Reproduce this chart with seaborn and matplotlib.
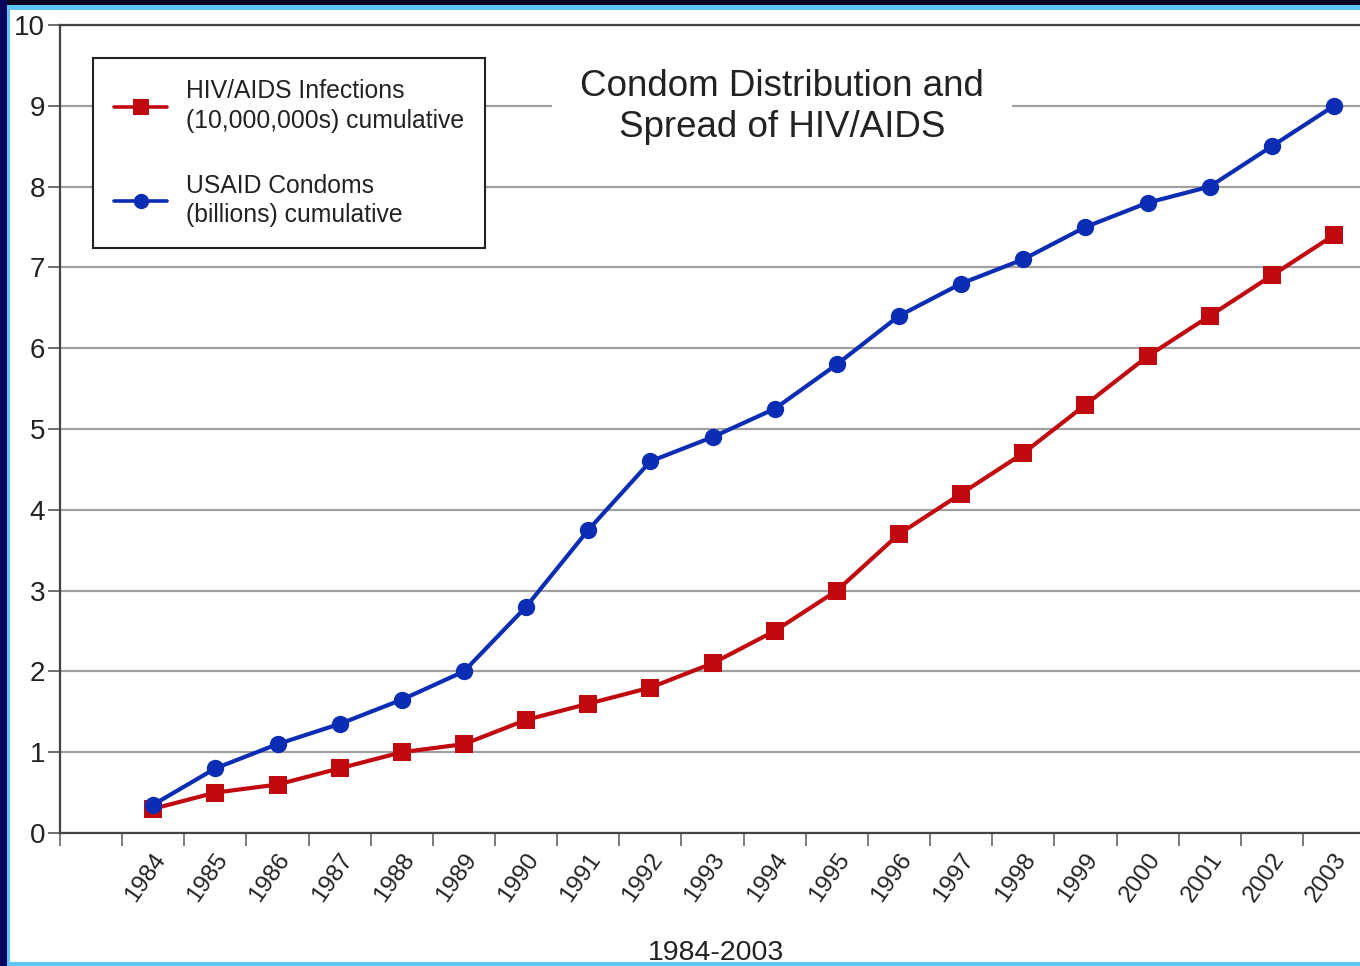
import matplotlib
matplotlib.use("Agg")
import matplotlib.pyplot as plt
import matplotlib.transforms as mtransforms
from matplotlib.patches import Rectangle
import seaborn as sns
import pandas as pd
import numpy as np

years = ["1984", "1985", "1986", "1987", "1988", "1989", "1990", "1991", "1992", "1993",
         "1994", "1995", "1996", "1997", "1998", "1999", "2000", "2001", "2002", "2003"]
hiv_infections = [0.3, 0.5, 0.6, 0.8, 1.0, 1.1, 1.4, 1.6, 1.8, 2.1,
                  2.5, 3.0, 3.7, 4.2, 4.7, 5.3, 5.9, 6.4, 6.9, 7.4]
usaid_condoms = [0.35, 0.8, 1.1, 1.35, 1.65, 2.0, 2.8, 3.75, 4.6, 4.9,
                 5.25, 5.8, 6.4, 6.8, 7.1, 7.5, 7.8, 8.0, 8.5, 9.0]
hiv_label = "HIV/AIDS Infections\n(10,000,000s) cumulative"
condom_label = "USAID Condoms\n(billions) cumulative"
title_text = "Condom Distribution and\nSpread of HIV/AIDS"
xlabel_text = "1984-2003"
yticks = list(range(0, 11))

sns.set_style("white")
plt.rcParams['font.family'] = ['Liberation Sans', 'DejaVu Sans']

W, H = 1360, 966
fig = plt.figure(figsize=(W / 100, H / 100), dpi=100, facecolor="white")

# frame strips (screen border)
def frect(x0, y0, x1, y1, color):
    fig.add_artist(Rectangle((x0 / W, 1 - y1 / H), (x1 - x0) / W, (y1 - y0) / H,
                             transform=fig.transFigure, color=color, zorder=10, lw=0))

frect(0, 0, W, 5, "#07071f")
frect(0, 0, 7, H, "#06065e")
frect(7, 5, W, 10, "#5cc6f6")
frect(7, 5, 10, H, "#5cc6f6")
frect(7, 962, W, H, "#5cc6f6")

ax = fig.add_axes([60 / W, (H - 833) / H, (W - 60) / W, (833 - 25) / H])
ax.set_facecolor("white")

df = pd.DataFrame({"pos": np.arange(len(years)), "hiv": hiv_infections, "condoms": usaid_condoms})

red = "#c00a10"
blue = "#0a2db4"
sns.lineplot(data=df, x="pos", y="hiv", ax=ax, color=red, lw=3, marker="s",
             markersize=13, markeredgewidth=0, label=hiv_label, zorder=3)
sns.lineplot(data=df, x="pos", y="condoms", ax=ax, color=blue, lw=3, marker="o",
             markersize=12.5, markeredgewidth=0, label=condom_label, zorder=4)

ax.set_xlim(-1.5, (W - 153) / 62.16)
ax.set_ylim(0, 10)

ax.set_yticks(yticks)
ax.set_yticklabels([str(v) for v in yticks], fontsize=20, color="#222222")
ax.tick_params(axis="y", direction="out", length=8.6, width=1.2, color="#555555", pad=2, left=True)
ax.yaxis.grid(True, color="#a0a0a0", lw=1.6)
ax.xaxis.grid(False)
ax.set_axisbelow(True)

ax.set_xticks(np.arange(len(years)))
ax.set_xticklabels(years, fontsize=17.5, color="#222222", rotation=55, ha="right",
                   va="center", rotation_mode="anchor")
ax.set_xticks(np.arange(-1.5, len(years) - 1, 1.0), minor=True)
ax.tick_params(axis="x", which="major", length=0, pad=16)
ax.tick_params(axis="x", which="minor", direction="out", length=9.4, width=1.2,
               color="#666666", bottom=True)
offset = mtransforms.ScaledTranslation(8 / 100, 0, fig.dpi_scale_trans)
for lab in ax.get_xticklabels():
    lab.set_transform(lab.get_transform() + offset)

ax.set_xlabel(xlabel_text, fontsize=20.5, color="#222222")
ax.xaxis.set_label_coords((716 - 60) / 1300, (833 - 940) / 808)
ax.set_ylabel("")

for side in ["left", "bottom", "top"]:
    ax.spines[side].set_visible(True)
    ax.spines[side].set_color("#444444")
    ax.spines[side].set_linewidth(1.6)
ax.spines["right"].set_visible(False)

ax.text((782 - 60) / 1300, (833 - 107) / 808, title_text, transform=ax.transAxes,
        ha="center", va="center", multialignment="center", fontsize=26.5, color="#222222",
        linespacing=1.22, zorder=5,
        bbox=dict(boxstyle="square,pad=0.75", facecolor="white", edgecolor="none"))

leg = ax.legend(loc="upper left", bbox_to_anchor=((93 - 60) / 1300, (833 - 58) / 808),
                fontsize=17.8, frameon=True, fancybox=False, framealpha=1,
                edgecolor="#222222", borderaxespad=0, borderpad=0.85, labelspacing=1.65,
                handlelength=2.15, handletextpad=0.75)
leg.get_frame().set_linewidth(1.5)
for t in leg.get_texts():
    t.set_color("#222222")
    t.set_linespacing(1.3)
for h in leg.legend_handles:
    h.set_markersize(11)
    h.set_linewidth(2.6)
leg.set_zorder(6)

fig.savefig("out.png", dpi=100, facecolor="white")
